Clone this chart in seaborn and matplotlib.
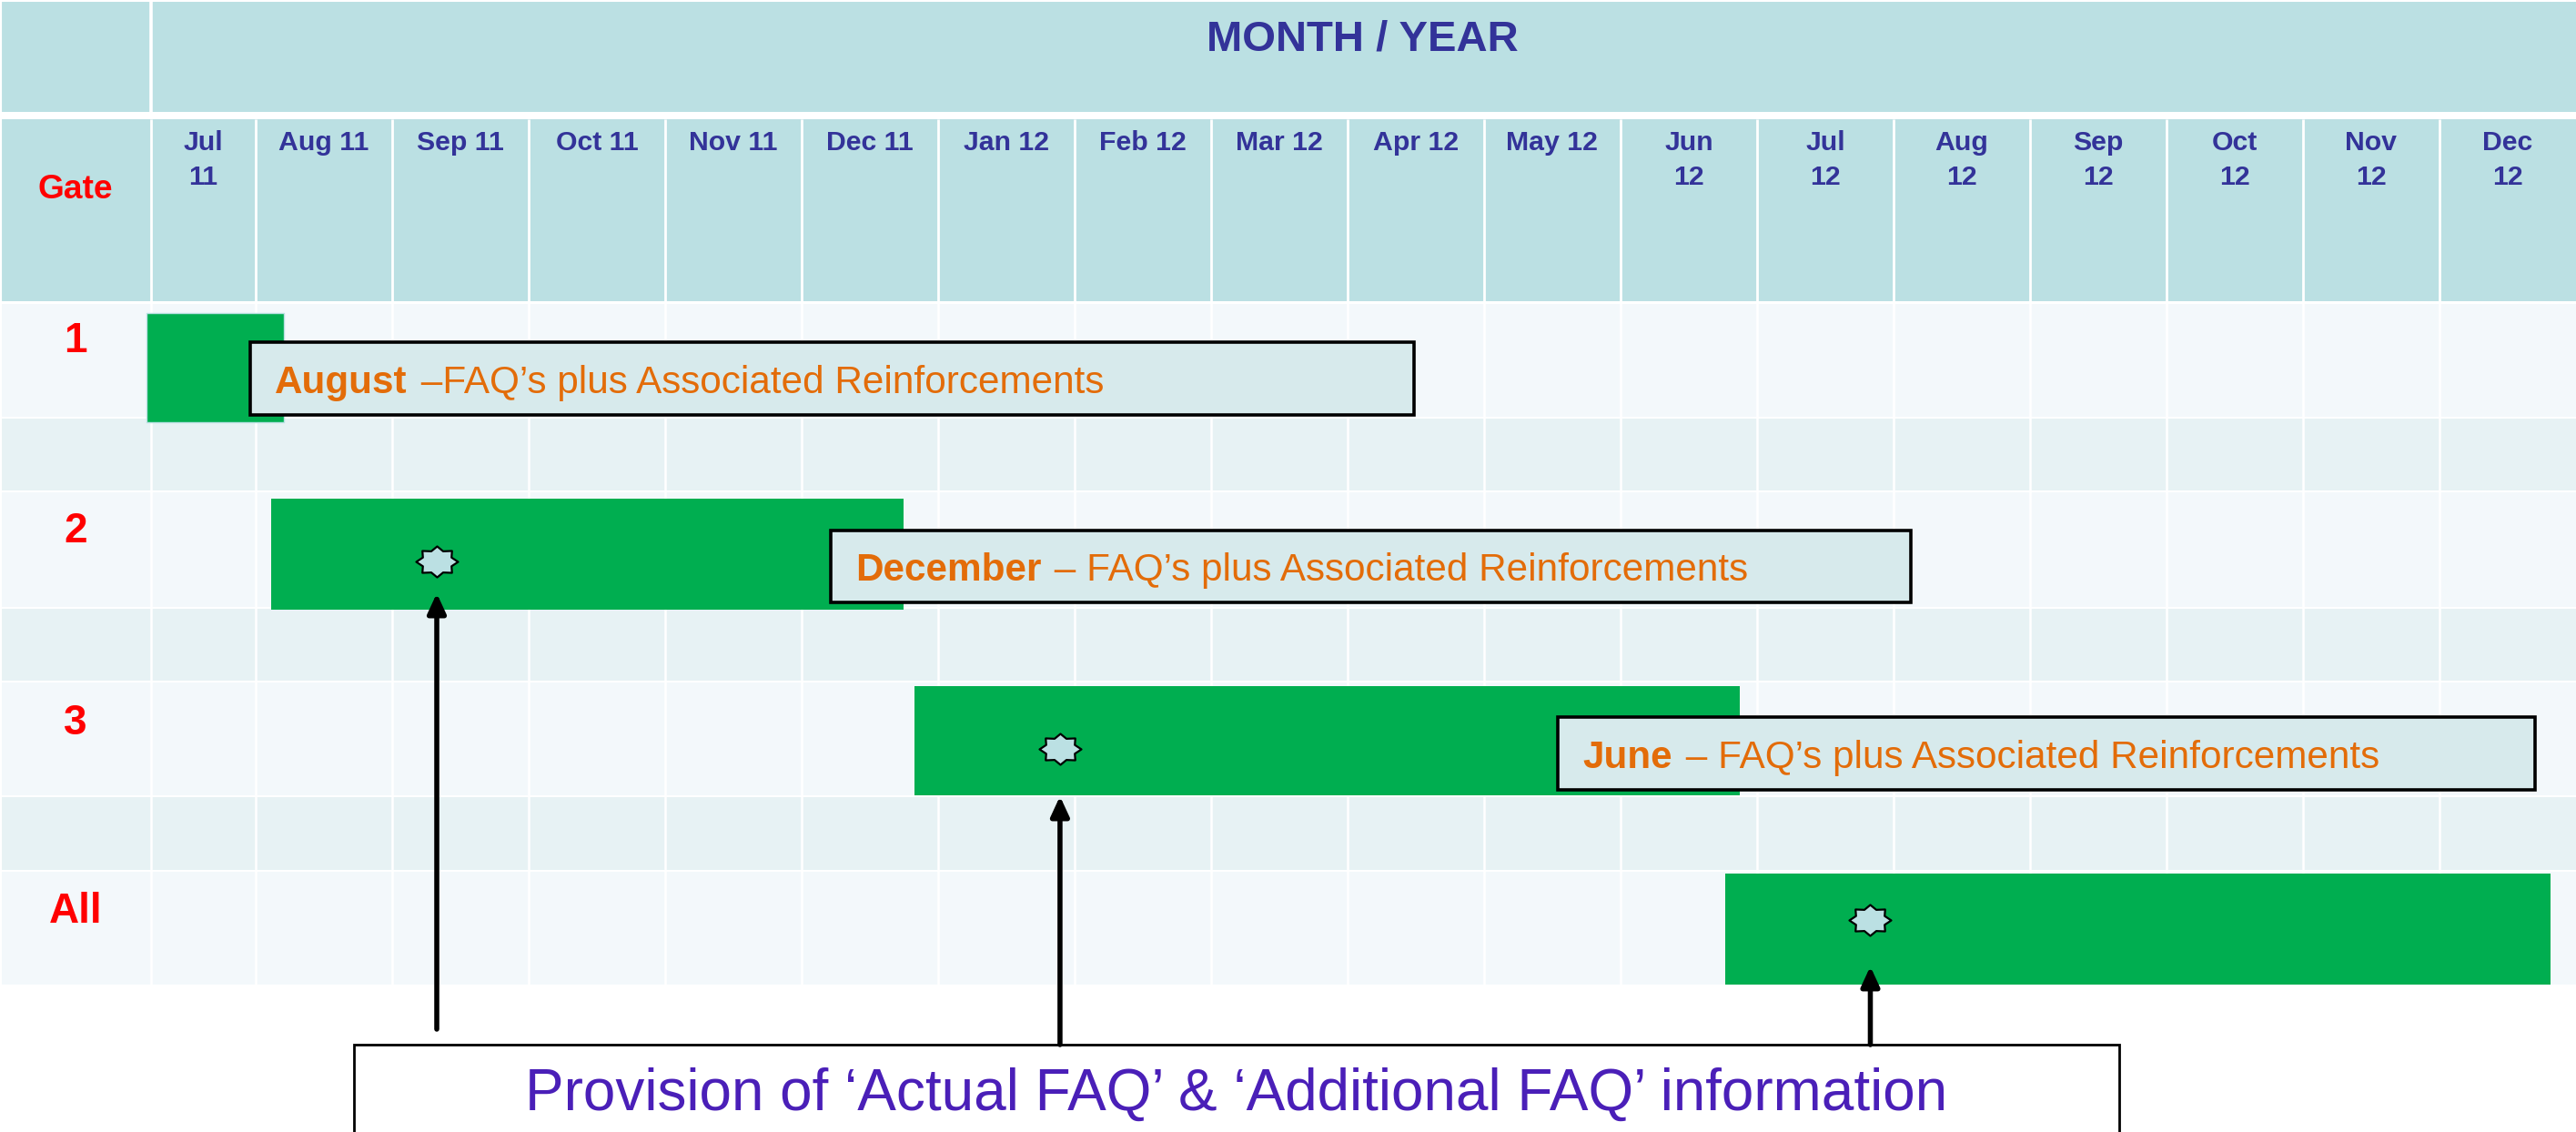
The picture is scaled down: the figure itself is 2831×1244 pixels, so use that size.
import matplotlib
matplotlib.use("Agg")
import matplotlib.pyplot as plt
from matplotlib.path import Path
from matplotlib.patches import Rectangle
import numpy as np
import pandas as pd
import seaborn as sns

sns.set_theme(style="white")
plt.rcParams['font.family'] = ['Liberation Sans', 'DejaVu Sans']

months = ["Jul\n11", "Aug 11", "Sep 11", "Oct 11", "Nov 11", "Dec 11", "Jan 12", "Feb 12", "Mar 12",
          "Apr 12", "May 12", "Jun\n12", "Jul\n12", "Aug\n12", "Sep\n12", "Oct\n12", "Nov\n12", "Dec\n12"]
gates = ["1", "2", "3", "All"]
bar_start = [0.20, 1.113, 5.827, 11.77]
bar_end = [1.207, 5.747, 11.873, 17.813]
star_x = [2.327, 6.893, 12.83]

callout_bold = ["August", "December", "June"]
callout_rest = [" \u2013FAQ\u2019s plus Associated Reinforcements",
                " \u2013 FAQ\u2019s plus Associated Reinforcements",
                " \u2013 FAQ\u2019s plus Associated Reinforcements"]
callout_start = [0.96, 5.213, 10.54]
callout_end = [9.487, 13.13, 17.70]
bottom_label = "Provision of \u2018Actual FAQ\u2019 & \u2018Additional FAQ\u2019 information"
title = "MONTH / YEAR"

# layout (x in month columns, y in rows measured downward)
JUL_LEFT = 0.233
row_edges = [333, 459, 540, 668, 749, 875, 957, 1083]
bar_top = [344, 548, 754, 960]
bar_bottom = [464, 670, 874, 1082]
star_y = [617, 823, 1011]
gate_y = [375, 584, 795, 1002]
callout_top = [376, 583, 788]
callout_bottom = [456, 662, 868]

HEAD = "#BBE0E3"
LIGHT = "#F3F8FB"
ALT = "#E7F2F4"
BOX = "#D7EAEC"
GREEN = "#00AE50"
NAVY = "#333399"
ORANGE = "#E36C09"
VIOLET = "#4A1FB8"

fig = plt.figure(figsize=(28.31, 12.44), dpi=100, facecolor="white")
ax = fig.add_axes([0, 0, 1, 1])
X0, X1 = -0.873, 18.0
ax.set_facecolor("white")

# Gantt bars through seaborn
df = pd.DataFrame({"gate": gates, "dur": np.array(bar_end) - np.array(bar_start)})
sns.barplot(data=df, y="gate", x="dur", color=GREEN, saturation=1, ax=ax, zorder=3, orient="y")
for p, s, t, b in zip(ax.patches, bar_start, bar_top, bar_bottom):
    p.set_x(s); p.set_y(t); p.set_height(b - t)
    p.set_edgecolor("none"); p.set_linewidth(0)
ax.patches[0].set_edgecolor(HEAD); ax.patches[0].set_linewidth(1.0)
ax.set_xlim(X0, X1)
ax.set_ylim(1244, 0)
ax.axis("off")

# table
ax.axhspan(2, 123, color=HEAD, lw=0, zorder=0)
ax.axhspan(131, 331, color=HEAD, lw=0, zorder=0)
for i in range(len(row_edges) - 1):
    ax.axhspan(row_edges[i] + 1, row_edges[i + 1] - 1, color=LIGHT if i % 2 == 0 else ALT, lw=0, zorder=0)
ax.plot([X0, X0], [0, 1083], color="white", lw=3, zorder=1)
grid_x = [JUL_LEFT] + list(range(1, 18))
ax.vlines(grid_x, 131, 331, color="white", lw=2.0, zorder=1)
ax.vlines(grid_x, 333, 1083, color="white", lw=1.8, zorder=1)
ax.vlines([JUL_LEFT], 0, 123, color="white", lw=2.6, zorder=1)

# header text
ax.text(9.107, 43, title, color=NAVY, weight="bold", fontsize=34, ha="center", va="center", zorder=5)
ax.text((X0 + JUL_LEFT) / 2, 209, "Gate", color="#FF0000", weight="bold", fontsize=26.7, ha="center", va="center", zorder=5)
centres = [(JUL_LEFT + 1) / 2] + [i + 0.5 for i in range(1, 18)]
for m, c in zip(months, centres):
    ax.text(c, 143, m, color=NAVY, weight="bold", fontsize=21.8, ha="center", va="top", linespacing=1.45, zorder=5)
for g, y in zip(gates, gate_y):
    ax.text(-0.32, y, g, color="#FF0000", weight="bold", fontsize=33, ha="center", va="center", zorder=5)

# callouts
fig.canvas.draw()
r = fig.canvas.get_renderer()
for s, e, t, b, bold, rest in zip(callout_start, callout_end, callout_top, callout_bottom, callout_bold, callout_rest):
    ax.add_patch(Rectangle((s, t), e - s, b - t, fc=BOX, ec="black", lw=2.6, zorder=4))
    base = b - 24
    tb = ax.text(s + 0.18, base, bold, color=ORANGE, weight="bold", fontsize=30.4, ha="left", va="baseline", zorder=5)
    x1 = ax.transData.inverted().transform((tb.get_window_extent(r).x1, 0))[0]
    ax.text(x1 + 0.02, base, rest, color=ORANGE, fontsize=30.4, ha="left", va="baseline", zorder=5)

# stars
ang = np.linspace(0, 2 * np.pi, 17)[:-1]
rad = np.where(np.arange(16) % 2 == 0, 1.0, 0.74)
vx, vy = rad * np.cos(ang), rad * np.sin(ang) * 0.74
verts = np.column_stack([np.r_[vx, vx[0]], np.r_[vy, vy[0]]])
star = Path(verts, closed=True)
sns.scatterplot(x=star_x, y=star_y, marker=star, s=(46 * 0.72) ** 2, color=HEAD,
                edgecolor="black", linewidth=1.6, ax=ax, zorder=6, legend=False)
ax.set_xlim(X0, X1)
ax.set_ylim(1244, 0)
ax.axis("off")

# arrows
arrow_from = [1131, 1148, 1148]
arrow_to = [652, 875, 1062]
for x, a, b in zip(star_x, arrow_from, arrow_to):
    ax.annotate("", xy=(x, b), xytext=(x, a), zorder=5,
                arrowprops=dict(arrowstyle="-|>,head_length=0.65,head_width=0.3", color="black", lw=4.0,
                                mutation_scale=20, shrinkA=0, shrinkB=0))

# bottom box
bx0, bx1 = (389 - 281) / 150 + 1, (2329 - 281) / 150 + 1
ax.add_patch(Rectangle((bx0, 1148), bx1 - bx0, 120, fc="white", ec="black", lw=2.0, zorder=4, clip_on=True))
ax.text((bx0 + bx1) / 2 + 0.0, 1203, bottom_label, color=VIOLET, fontsize=46.0, ha="center", va="center", zorder=5)

fig.savefig("out.png", dpi=100)
